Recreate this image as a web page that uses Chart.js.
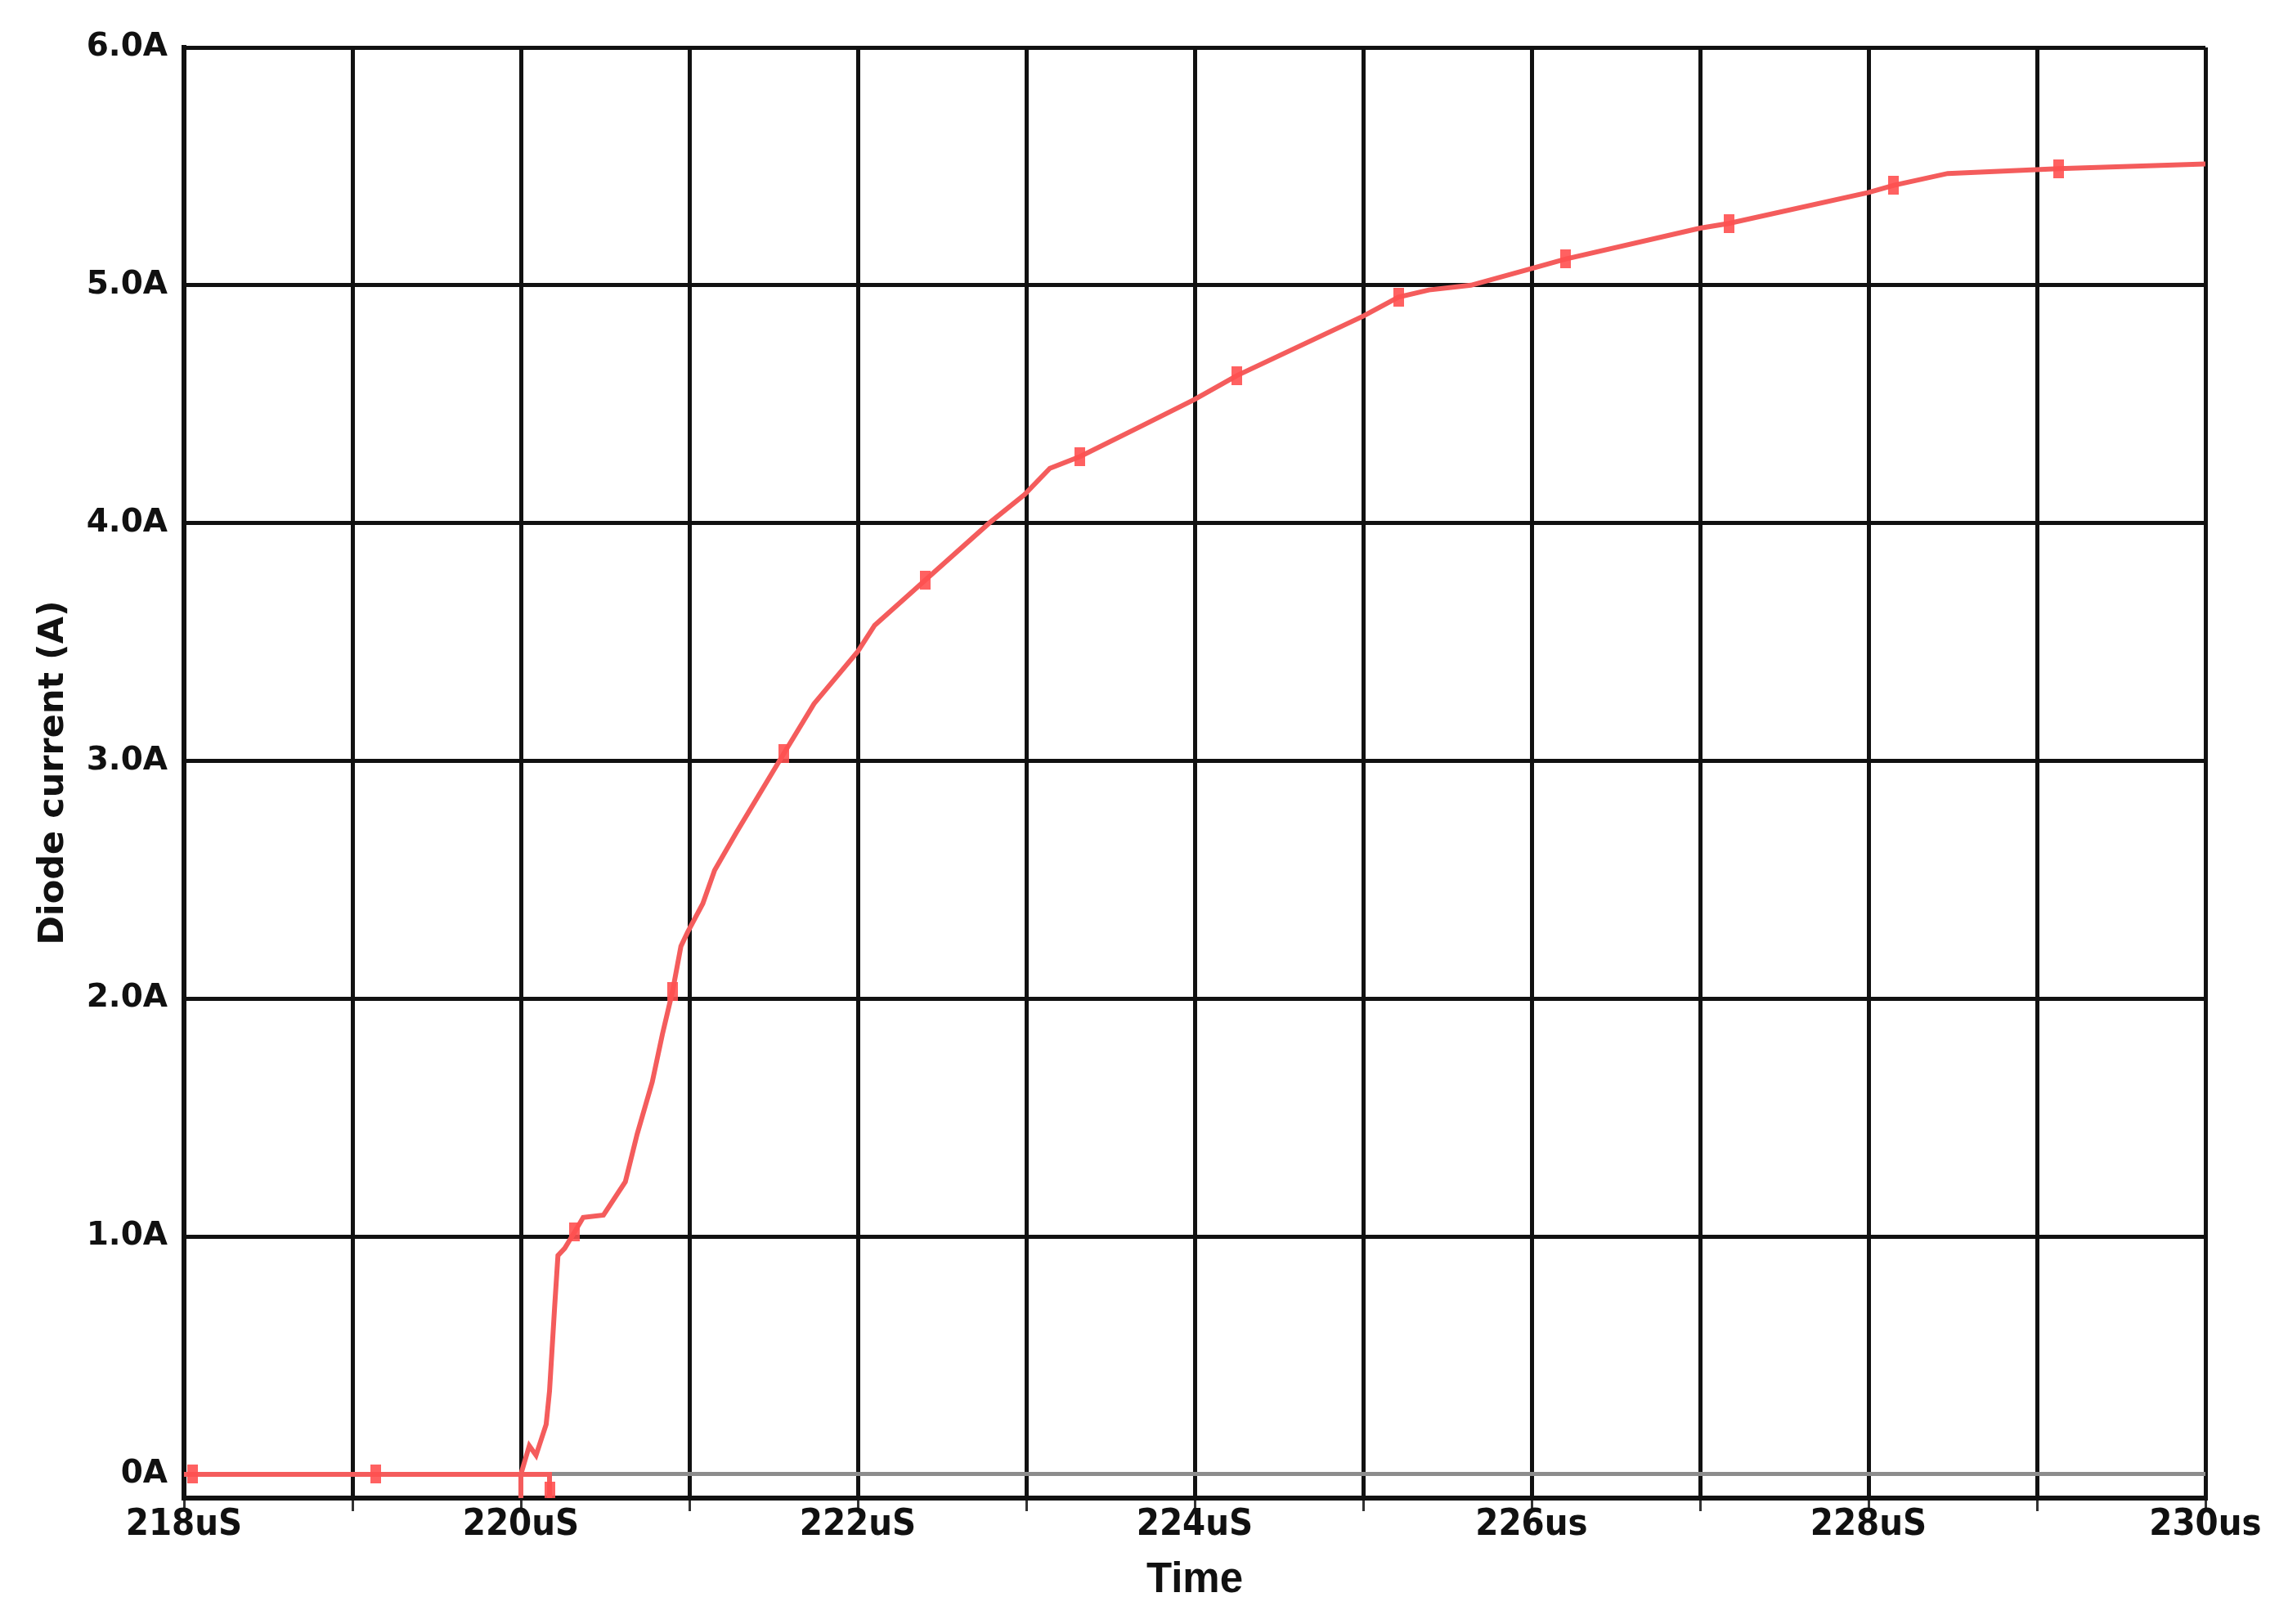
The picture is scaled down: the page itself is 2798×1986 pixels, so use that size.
<!DOCTYPE html>
<html>
<head>
<meta charset="utf-8">
<title>Diode current</title>
<script src="https://cdn.jsdelivr.net/npm/chart.js@4.4.1/dist/chart.umd.min.js"></script>
<style>
  body { margin: 0; background: #fff; }
  #diode_chart { display: block; }
</style>
</head>
<body>
<canvas id="diode_chart" width="2798" height="1986"></canvas>
<script>
// trace (time in us, current in A)
var times = [218.0, 220.17, 220.17, 220.0, 220.0, 220.05, 220.09, 220.15, 220.17, 220.20,
  220.22, 220.26, 220.32, 220.37, 220.49, 220.62, 220.69, 220.78, 220.84, 220.90,
  220.95, 220.99, 221.08, 221.15, 221.28, 221.56, 221.74, 222.0, 222.10, 222.40,
  222.78, 222.99, 223.14, 223.32, 223.69, 224.0, 224.25, 225.0, 225.21, 225.39,
  225.64, 226.0, 226.20, 227.0, 227.17, 228.0, 228.15, 228.47, 229.13, 230.0];
var current = [0, 0, -0.25, -0.25, 0, 0.12, 0.08, 0.21, 0.35, 0.70,
  0.92, 0.95, 1.02, 1.08, 1.09, 1.23, 1.43, 1.65, 1.85, 2.03,
  2.22, 2.28, 2.40, 2.54, 2.70, 3.03, 3.24, 3.46, 3.57, 3.76,
  4.00, 4.12, 4.23, 4.28, 4.41, 4.52, 4.62, 4.87, 4.95, 4.98,
  5.00, 5.07, 5.11, 5.24, 5.26, 5.39, 5.42, 5.47, 5.49, 5.51];

// trace marker symbols
var markTimes = [218.05, 219.14, 220.17, 220.32, 220.90, 221.56, 222.40, 223.32, 224.25, 225.21, 226.20, 227.17, 228.15, 229.13];
var markValues = [0, 0, -0.07, 1.02, 2.03, 3.03, 3.76, 4.28, 4.62, 4.95, 5.11, 5.26, 5.42, 5.49];

// axes
var xGridValues = [218, 219, 220, 221, 222, 223, 224, 225, 226, 227, 228, 229, 230];
var xLabelValues = [218, 220, 222, 224, 226, 228, 230];
var xLabelTexts = ["218uS", "220uS", "222uS", "224uS", "226us", "228uS", "230us"];
var yTickValues = [0, 1, 2, 3, 4, 5, 6];
var yTickLabels = ["0A", "1.0A", "2.0A", "3.0A", "4.0A", "5.0A", "6.0A"];

function makemarker(){
  var c = document.createElement("canvas");
  c.width = 13;
  c.height = 23;
  var g = c.getContext("2d");
  g.fillStyle = "rgba(255, 80, 80, 0.9)";
  g.fillRect(0, 0, 13, 23);
  return c;
}

function makechart(){
  var trace = [];
  for (var i = 0; i < times.length; i++) {
    trace.push({x: times[i], y: current[i]});
  }
  var marks = [];
  for (var j = 0; j < markTimes.length; j++) {
    marks.push({x: markTimes[j], y: markValues[j]});
  }

  var ctx = document.getElementById("diode_chart");
  var chart = new Chart(ctx, {
    type: 'scatter',
    data: {
      datasets: [{
        label: 'Diode current',
        data: marks,
        showLine: false,
        pointStyle: makemarker(),
        pointRadius: 6,
        order: 0
      },
      {
        label: 'Diode current trace',
        data: trace,
        showLine: true,
        borderColor: '#f45c5c',
        borderWidth: 6,
        pointRadius: 0,
        tension: 0,
        order: 1
      }]
    },
    options: {
      responsive: false,
      animation: false,
      devicePixelRatio: 1,
      layout: {
        padding: {top: 58, right: 101, left: 0, bottom: 0}
      },
      plugins: {
        legend: {display: false},
        tooltip: {enabled: false}
      },
      scales: {
        x: {
          type: 'linear',
          min: 218,
          max: 230,
          afterBuildTicks: function(scale){
            scale.ticks = xGridValues.map(function(v){ return {value: v}; });
          },
          afterFit: function(scale){
            scale.height = 154;
          },
          grid: {
            color: '#111',
            lineWidth: 5,
            drawTicks: true,
            tickLength: 16,
            tickColor: '#333',
            tickWidth: 3
          },
          border: {display: true, color: '#111', width: 6},
          ticks: {
            autoSkip: false,
            maxRotation: 0,
            padding: -10,
            color: '#111',
            font: {family: "'DejaVu Sans Condensed', 'Liberation Sans Narrow', 'DejaVu Sans', sans-serif", weight: 'bold', size: 45},
            callback: function(value){
              var k = xLabelValues.indexOf(value);
              return k >= 0 ? xLabelTexts[k] : '';
            }
          },
          title: {
            display: true,
            text: 'Time',
            color: '#111',
            padding: {top: 0, bottom: 22},
            font: {family: "'Liberation Sans', Arial, sans-serif", weight: 'bold', size: 51}
          }
        },
        y: {
          type: 'linear',
          min: -0.1,
          max: 6,
          afterBuildTicks: function(scale){
            scale.ticks = yTickValues.map(function(v){ return {value: v}; });
          },
          afterFit: function(scale){
            scale.width = 225;
          },
          grid: {
            color: function(c){
              return c.tick && c.tick.value === 0 ? '#8c8c8c' : '#111';
            },
            lineWidth: function(c){
              return c.tick && c.tick.value === 0 ? 5 : 5;
            },
            drawTicks: false
          },
          border: {display: true, color: '#111', width: 6},
          ticks: {
            padding: 20,
            color: '#111',
            font: {family: "'DejaVu Sans', sans-serif", weight: 'bold', size: 39},
            callback: function(value){
              var k = yTickValues.indexOf(value);
              return k >= 0 ? yTickLabels[k] : '';
            }
          },
          title: {
            display: true,
            text: 'Diode current (A)',
            color: '#111',
            padding: {top: 40, bottom: 0},
            font: {family: "'DejaVu Sans', sans-serif", weight: 'bold', size: 43}
          }
        }
      }
    }
  });
  return chart;
}

makechart();
</script>
</body>
</html>
